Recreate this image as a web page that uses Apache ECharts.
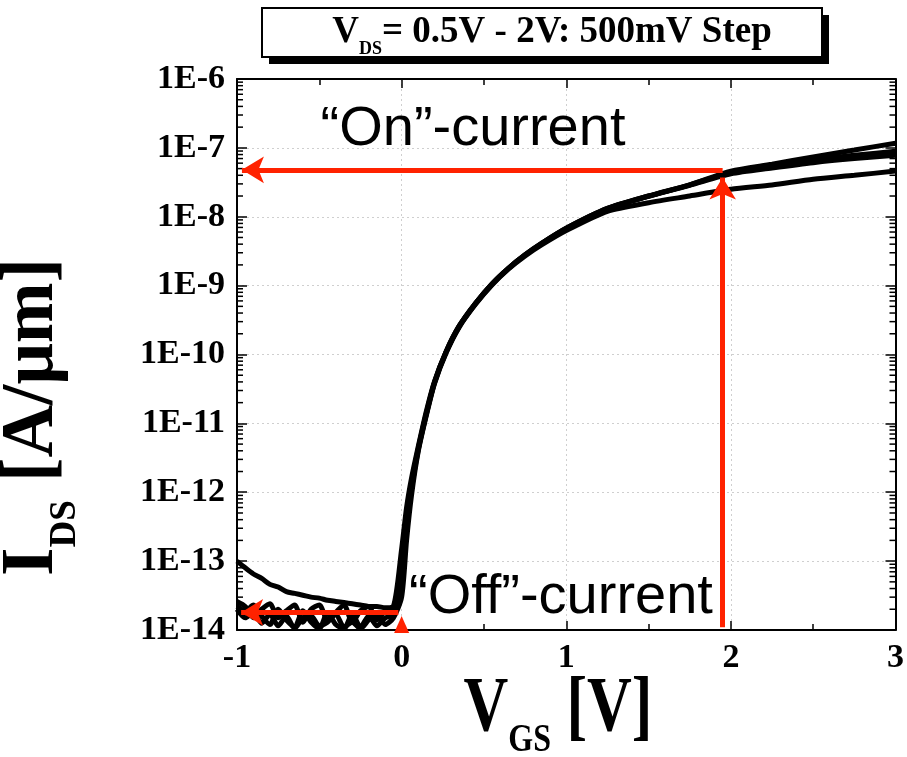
<!DOCTYPE html>
<html><head><meta charset="utf-8">
<script src="https://cdn.jsdelivr.net/npm/echarts@6/dist/echarts.min.js"></script>
<style>html,body{margin:0;padding:0;background:#fff}#c{width:907px;height:757px}</style>
</head><body><div id="c"></div>
<script>
// ---------- data ----------
const vgsOff = [-1,-0.95,-0.9,-0.85,-0.8,-0.75,-0.7,-0.65,-0.6,-0.55,-0.5,-0.45,-0.4,-0.35,-0.3,-0.25,-0.2,-0.15,-0.1,-0.05];
const vgsOn  = [0,0.03,0.06,0.1,0.15,0.2,0.27,0.35,0.45,0.55,0.65,0.75,0.85,1.0,1.25,1.5,1.75,2.0,2.25,2.5,2.75,3.0];

const idsOff_2V0 = [1.0e-13,8.0e-14,6.5e-14,5.6e-14,4.6e-14,4.2e-14,3.6e-14,3.4e-14,3.2e-14,3.0e-14,2.9e-14,2.7e-14,2.6e-14,2.5e-14,2.4e-14,2.3e-14,2.2e-14,2.2e-14,2.1e-14,2.2e-14];
const idsOff_1V5 = [2.6e-14,2.2e-14,1.5e-14,2.0e-14,2.4e-14,1.5e-14,1.9e-14,2.3e-14,1.3e-14,2.0e-14,2.3e-14,1.4e-14,1.8e-14,2.3e-14,1.3e-14,1.9e-14,2.2e-14,1.4e-14,1.9e-14,2.1e-14];
const idsOff_1V0 = [2.2e-14,1.9e-14,2.3e-14,1.6e-14,1.2e-14,2.0e-14,1.4e-14,1.1e-14,1.9e-14,1.3e-14,1.05e-14,1.8e-14,1.2e-14,1.05e-14,1.7e-14,1.1e-14,1.6e-14,1.15e-14,1.5e-14,1.7e-14];
const idsOff_0V5 = [2.0e-14,1.5e-14,1.8e-14,1.25e-14,1.7e-14,1.15e-14,1.6e-14,1.05e-14,1.5e-14,1.6e-14,1.15e-14,1.3e-14,1.7e-14,1.1e-14,1.3e-14,1.05e-14,1.4e-14,1.7e-14,1.2e-14,1.5e-14];

const idsOn_2V0 = [1.5e-13,6.0e-13,1.6e-12,4.5e-12,1.5e-11,4.1e-11,1.1e-10,2.6e-10,5.6e-10,1.07e-9,1.8e-9,2.8e-9,4.1e-9,6.8e-9,1.32e-8,2.0e-8,2.9e-8,4.6e-8,5.8e-8,7.4e-8,9.3e-8,1.17e-7];
const idsOn_1V5 = [8.0e-14,4.0e-13,1.3e-12,4.2e-12,1.4e-11,4.0e-11,1.1e-10,2.6e-10,5.6e-10,1.07e-9,1.8e-9,2.8e-9,4.1e-9,6.8e-9,1.32e-8,2.0e-8,2.9e-8,4.4e-8,5.5e-8,6.7e-8,7.8e-8,8.9e-8];
const idsOn_1V0 = [5.0e-14,3.0e-13,1.1e-12,4.0e-12,1.35e-11,3.9e-11,1.08e-10,2.55e-10,5.5e-10,1.05e-9,1.78e-9,2.78e-9,4.05e-9,6.7e-9,1.3e-8,1.98e-8,2.85e-8,4.2e-8,5.1e-8,6.1e-8,7.0e-8,7.8e-8];
const idsOn_0V5 = [3.0e-14,2.0e-13,9.0e-13,3.8e-12,1.3e-11,3.8e-11,1.05e-10,2.5e-10,5.4e-10,1.03e-9,1.75e-9,2.7e-9,3.9e-9,6.3e-9,1.2e-8,1.6e-8,2.0e-8,2.5e-8,2.9e-8,3.5e-8,4.0e-8,4.6e-8];

const xTicks = [-1, 0, 1, 2, 3];
const yTickExps = [-14,-13,-12,-11,-10,-9,-8,-7,-6];

// annotation arrows [start, end]
const onArrowH  = [[1.95, 4.8e-8], [-0.97, 4.8e-8]];
const onArrowV  = [[1.95, 1.1e-14], [1.95, 3.7e-8]];
const offArrowH = [[-0.02, 1.8e-14], [-0.975, 1.8e-14]];
const offMarker = [0.0, 1.2e-14];

// ---------- build ----------
function pairs(xa, ya) { return xa.map((x, i) => [x, ya[i]]); }
const allX = vgsOff.concat(vgsOn);
const curves = [
  ['VDS=2.0V', idsOff_2V0.concat(idsOn_2V0)],
  ['VDS=1.5V', idsOff_1V5.concat(idsOn_1V5)],
  ['VDS=1.0V', idsOff_1V0.concat(idsOn_1V0)],
  ['VDS=0.5V', idsOff_0V5.concat(idsOn_0V5)]
];

const minorY = [];
for (let e = yTickExps[0]; e < yTickExps[yTickExps.length-1]; e++)
  for (let k = 2; k <= 9; k++) minorY.push(k * Math.pow(10, e));

const SERIF = '"Liberation Serif","Times New Roman",serif';
const RED = '#ff2200';

const chart = echarts.init(document.getElementById('c'), null, {renderer: 'canvas'});

const xBase = {
  type: 'value', min: xTicks[0], max: xTicks[xTicks.length-1], interval: 1,
  axisLine: {show: true, onZero: false, lineStyle: {color: '#000', width: 2}},
  axisTick: {show: true, inside: true, length: 9, lineStyle: {color: '#000', width: 1.5}},
  minorTick: {show: true, splitNumber: 2, length: 6, lineStyle: {color: '#000', width: 1.5}}
};
const yBase = {
  type: 'log', logBase: 10, min: 1e-14, max: 1e-6, interval: 1,
  axisLine: {show: true, onZero: false, lineStyle: {color: '#000', width: 2}},
  axisTick: {show: true, inside: true, length: 10, lineStyle: {color: '#000', width: 1.5}}
};

const series = curves.map(([name, ys]) => ({
  name, type: 'line', data: pairs(allX, ys), showSymbol: false, symbol: 'none', smooth: 0.25,
  lineStyle: {color: '#000', width: 5}, z: 3, clip: true, animation: false
}));

series.push({
  type: 'custom', name: 'minorTicks', z: 4, silent: true, animation: false,
  data: minorY.map(v => [0, v]),
  renderItem: (params, api) => {
    const v = api.value(1);
    const l = api.coord([xTicks[0], v]);
    const r = api.coord([xTicks[xTicks.length-1], v]);
    return {type: 'group', children: [
      {type: 'line', shape: {x1: l[0], y1: l[1], x2: l[0] + 6, y2: l[1]}, style: {stroke: '#000', lineWidth: 1.5}},
      {type: 'line', shape: {x1: r[0], y1: r[1], x2: r[0] - 6, y2: r[1]}, style: {stroke: '#000', lineWidth: 1.5}}
    ]};
  }
});

series.push({
  type: 'line', name: 'annot', data: [], z: 10, animation: false,
  markLine: {
    silent: true, animation: false, symbol: ['none', 'arrow'], symbolSize: [20, 22],
    label: {show: false},
    lineStyle: {color: RED, width: 5, type: 'solid'},
    emphasis: {disabled: true},
    data: [onArrowH, onArrowV, offArrowH].map(a => [{coord: a[0]}, {coord: a[1]}])
  },
  markPoint: {
    silent: true, animation: false, label: {show: false},
    data: [{coord: offMarker, symbol: 'triangle', symbolSize: [15, 17], itemStyle: {color: RED}}]
  }
});

function subTitle(main1, sub, main2, big, small, drop) {
  return {
    text: '{a|' + main1 + '}{s|' + sub + '}{a|' + main2 + '}',
    align: 'center', verticalAlign: 'middle',
    rich: {
      a: {fontFamily: SERIF, fontWeight: 'bold', fontSize: big, fill: '#000', lineHeight: big, verticalAlign: 'top'},
      s: {fontFamily: SERIF, fontWeight: 'bold', fontSize: small, fill: '#000', lineHeight: big + drop, verticalAlign: 'bottom'}
    }
  };
}

chart.setOption({
  animation: false,
  backgroundColor: '#fff',
  grid: {left: 237, right: 9, top: 79, bottom: 127, containLabel: false},
  xAxis: [
    Object.assign({}, xBase, {
      position: 'bottom',
      axisLabel: {show: true, color: '#000', fontFamily: SERIF, fontWeight: 'bold', fontSize: 34, margin: 11,
                  showMinLabel: true, showMaxLabel: true},
      splitLine: {show: true, lineStyle: {color: '#cfcfcf', width: 1, type: [2, 3]}}
    }),
    Object.assign({}, xBase, {position: 'top', axisLabel: {show: false}, splitLine: {show: false}})
  ],
  yAxis: [
    Object.assign({}, yBase, {
      position: 'left',
      axisLabel: {show: true, color: '#000', fontFamily: SERIF, fontWeight: 'bold', fontSize: 34, margin: 12,
                  formatter: v => '1E' + Math.round(Math.log10(v))},
      splitLine: {show: true, lineStyle: {color: '#cfcfcf', width: 1, type: [2, 3]}}
    }),
    Object.assign({}, yBase, {position: 'right', axisLabel: {show: false}, splitLine: {show: false}})
  ],
  series,
  graphic: [
    // title box with shadow
    {type: 'rect', shape: {x: 269, y: 15, width: 560, height: 49}, style: {fill: '#000'}, z: 20},
    {type: 'rect', shape: {x: 262, y: 8, width: 560, height: 49}, style: {fill: '#fff', stroke: '#000', lineWidth: 2}, z: 21},
    {type: 'text', x: 552, y: 36, z: 22, style: subTitle('V', 'DS', '= 0.5V - 2V: 500mV Step', 37, 18, 8)},
    // y axis title
    {type: 'text', x: 40, y: 417, rotation: Math.PI / 2, z: 22, style: subTitle('I', 'DS', ' [A/μm]', 73, 37, 14)},
    // x axis title
    {type: 'text', x: 558, y: 716, scaleY: 1.25, z: 22, style: subTitle('V', 'GS', ' [V]', 62, 32, 10)},
    // annotations
    {type: 'text', x: 473, y: 130, z: 22, style: {text: '“On”-current', font: '56px "Liberation Sans", Arial, sans-serif', fill: '#000', align: 'center', verticalAlign: 'middle'}},
    {type: 'text', x: 409, y: 598, z: 2, style: {text: '“Off”-current', font: '56px "Liberation Sans", Arial, sans-serif', fill: '#000', align: 'left', verticalAlign: 'middle'}}
  ]
});
</script></body></html>
